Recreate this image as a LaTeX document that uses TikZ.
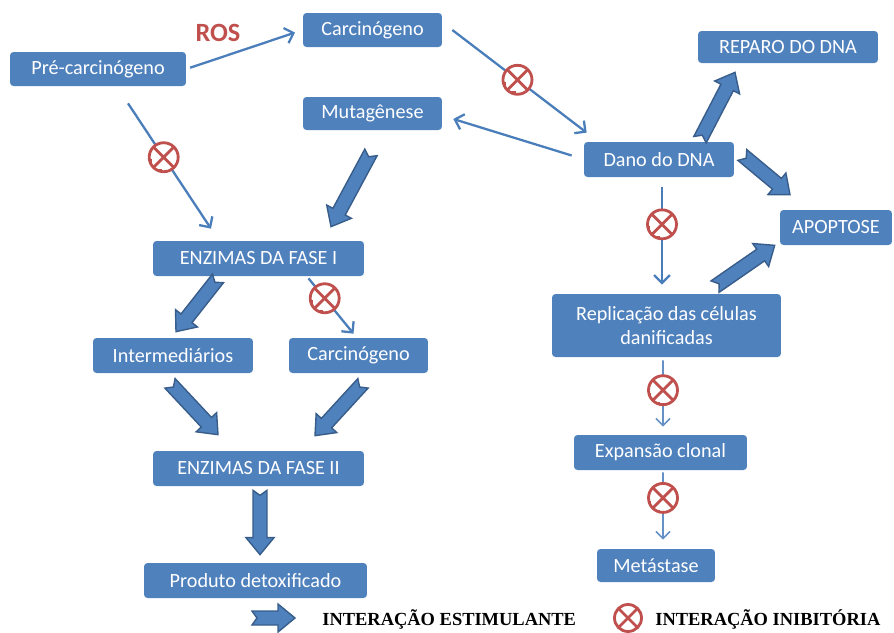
\documentclass[tikz,border=0pt]{standalone}
\usepackage{fontspec}
\setmainfont{Carlito}
\newfontfamily\legendfont{Liberation Serif}
\usetikzlibrary{arrows.meta,calc}

\definecolor{boxblue}{HTML}{4F81BD}
\definecolor{linkblue}{HTML}{4A7EBB}
\definecolor{edgeblue}{HTML}{385D8A}
\definecolor{inhibred}{HTML}{C0504D}

\tikzset{
  box/.style={rectangle, rounded corners=2pt, fill=boxblue, text=white, inner sep=0pt,
    align=center, font=\fontsize{11.5}{14}\selectfont},
  link/.style={draw=linkblue, line width=1.3pt, -{Straight Barb[length=4.5pt,width=9pt]}},
  thinlink/.style={draw=linkblue!85, line width=0.9pt, -{Straight Barb[length=4pt,width=8pt]}},
  inhib/.style={circle, draw=inhibred, line width=1.6pt, fill=white, minimum size=0.58cm,
    inner sep=0pt, path picture={\draw[inhibred, line width=1.6pt]
      (path picture bounding box.north west) -- (path picture bounding box.south east)
      (path picture bounding box.north east) -- (path picture bounding box.south west);}},
  blockarrow/.style={fill=boxblue, draw=edgeblue, line width=0.8pt, line join=miter}
}

% notched block arrow from #1 to #2
\newcommand{\fatarrow}[2]{%
  \coordinate (fa-s) at #1;
  \coordinate (fa-e) at #2;
  \coordinate (fa-h) at ($(fa-e)!0.34cm!(fa-s)$);
  \draw[blockarrow] ($(fa-s)!0.14cm!90:(fa-e)$) -- ($(fa-h)!0.14cm!90:(fa-e)$)
    -- ($(fa-h)!0.28cm!90:(fa-e)$) -- (fa-e) -- ($(fa-h)!0.28cm!-90:(fa-e)$)
    -- ($(fa-h)!0.14cm!-90:(fa-e)$) -- ($(fa-s)!0.14cm!-90:(fa-e)$)
    -- ($(fa-s)!0.1cm!(fa-e)$) -- cycle;}

\begin{document}
\begin{tikzpicture}[x=0.02cm, y=-0.02cm]
\useasboundingbox (0,0) rectangle (894,633);

% boxes
\node[box, minimum width=3.52cm, minimum height=0.68cm] (pre) at (98,69) {Pré-carcinógeno};
\node[box, minimum width=2.78cm, minimum height=0.68cm] (carcA) at (372.5,30) {Carcinógeno};
\node[box, minimum width=2.78cm, minimum height=0.66cm] (muta) at (372.5,113.5) {Mutagênese};
\node[box, minimum width=3.6cm, minimum height=0.64cm] (reparo) at (788,47) {REPARO DO DNA};
\node[box, minimum width=3.0cm, minimum height=0.7cm] (dano) at (659,159.5) {Dano do DNA};
\node[box, minimum width=2.24cm, minimum height=0.7cm] (apop) at (836,227.5) {APOPTOSE};
\node[box, minimum width=4.22cm, minimum height=0.7cm] (fase1) at (258.5,258.5) {ENZIMAS DA FASE I};
\node[box, minimum width=3.2cm, minimum height=0.7cm] (inter) at (173,355.5) {Intermediários};
\node[box, minimum width=2.78cm, minimum height=0.7cm] (carcB) at (358.5,355.5) {Carcinógeno};
\node[box, minimum width=4.22cm, minimum height=0.7cm] (fase2) at (258.5,468.5) {ENZIMAS DA FASE II};
\node[box, minimum width=4.46cm, minimum height=0.7cm] (prod) at (255.5,580.5) {Produto detoxificado};
\node[box, minimum width=4.58cm, minimum height=1.26cm] (repl) at (666.5,325.5) {Replicação das células\\danificadas};
\node[box, minimum width=3.46cm, minimum height=0.7cm] (expa) at (660.5,452.5) {Expansão clonal};
\node[box, minimum width=2.36cm, minimum height=0.66cm] (meta) at (656,565.5) {Metástase};

\node[text=inhibred, font=\fontsize{15}{15}\selectfont\bfseries] (ros) at (218,33) {ROS};

% thin arrows
\draw[link, shorten <=0.08cm, shorten >=0.16cm] (pre.east) -- (carcA.west);
\draw[link] ($(pre.south)+(30,17)$) -- ($(fase1.north)+(-47.5,-12)$) node[inhib, pos=0.43] (x1) {};
\draw[link] ($(carcA.east)+(10,0)$) -- ($(dano.north west)+(3,-9)$) node[inhib, pos=0.485] (x2) {};
\draw[link] ($(dano.west)+(-12,-4)$) -- ($(muta.east)+(11,5.5)$);
\draw[link] ($(dano.south)+(3,10)$) -- ($(repl.north)+(-4.5,-9)$) node[inhib, pos=0.38] (x3) {};
\draw[link] ($(fase1.south)+(50,2)$) -- ($(carcB.north)+(-5,-4)$) node[inhib, pos=0.36] (x4) {};
\draw[thinlink] ($(repl.south)+(-3.5,3)$) -- ($(expa.north)+(2.5,-8)$) node[inhib, pos=0.45] (x5) {};
\draw[thinlink] ($(expa.south)+(2.5,2)$) -- ($(meta.north)+(7,-9)$) node[inhib, pos=0.38] (x6) {};

% block arrows
\fatarrow{($(muta.south)+(-1.5,22)$)}{($(fase1.north)+(72.5,-14)$)}
\fatarrow{($(dano.north)+(41,-2)$)}{($(reparo.south)+(-53,9)$)}
\fatarrow{($(dano.east)+(8,-4.5)$)}{($(apop.north)+(-46,-15)$)}
\fatarrow{($(repl.north)+(48.5,-7)$)}{($(apop.south west)+(-5,0)$)}
\fatarrow{($(fase1.south)+(-40.5,2)$)}{($(inter.north)+(3,-6)$)}
\fatarrow{($(inter.south)+(-3,10)$)}{($(fase2.north)+(-40.5,-16)$)}
\fatarrow{($(carcB.south)+(4.5,10)$)}{($(fase2.north)+(56.5,-15)$)}
\fatarrow{($(fase2.south)+(1.5,4)$)}{($(prod.north)+(4.5,-8)$)}

% legend
\node[anchor=west, inner sep=0pt, font=\legendfont\bfseries\fontsize{10.5}{12}\selectfont] (leg1) at (322,619) {INTERAÇÃO ESTIMULANTE};
\fatarrow{($(leg1.west)+(-70,-1)$)}{($(leg1.west)+(-27,-1)$)}
\node[inhib, minimum size=0.54cm] (legx) at (628,618) {};
\node[anchor=west, inner sep=0pt, font=\legendfont\bfseries\fontsize{10.5}{12}\selectfont] (leg2) at (655,619) {INTERAÇÃO INIBITÓRIA};
\end{tikzpicture}
\end{document}
